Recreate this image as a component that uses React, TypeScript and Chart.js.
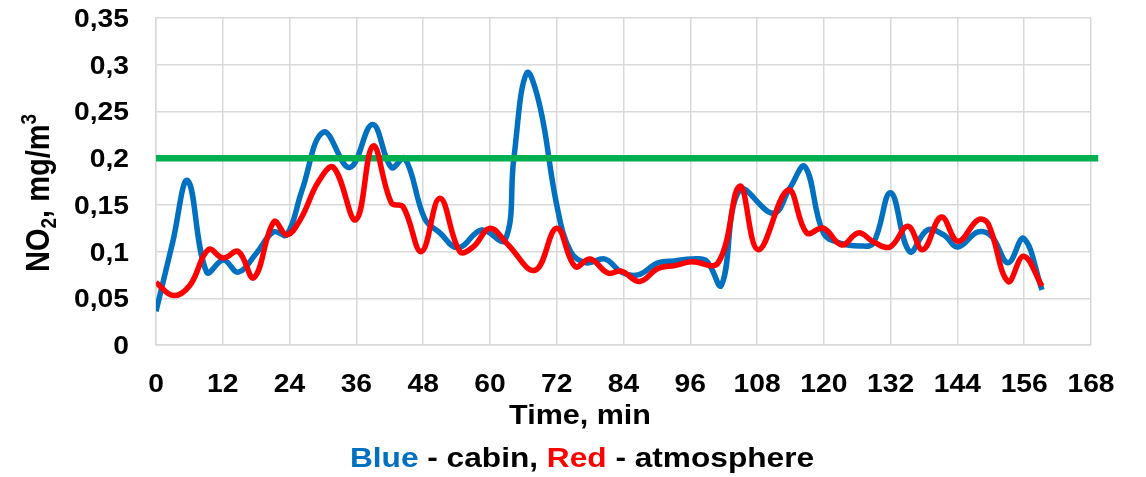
import { useEffect, useRef } from 'react';
import { Chart, registerables } from 'chart.js';

Chart.register(...registerables);

// NO2 concentration in the cabin (blue), minutes / mg/m3
const cabinTime = [
  0, 3, 5.7, 9.1, 12.1, 14.8, 18, 21.1, 23.5, 26.2, 30.1, 34.8, 38.9, 42.3, 44.7, 48.3, 51, 54.3,
  58.5, 62.7, 64.3, 66.6, 69, 72, 74.5, 77.3, 80.7, 83.6, 86.6, 90.2, 93.2, 96.2, 98.9, 101.6,
  104.9, 110.9, 113.9, 116.6, 119.9, 122.9, 126.5, 128.9, 132, 135.4, 138.6, 141.5, 144.1, 147.7,
  150.2, 153.1, 155.9, 159.2,
];
const cabinNO2 = [
  0.036, 0.11, 0.176, 0.078, 0.091, 0.078, 0.098, 0.121, 0.118, 0.165, 0.228, 0.19, 0.236, 0.19,
  0.2, 0.135, 0.12, 0.104, 0.123, 0.112, 0.2, 0.291, 0.255, 0.15, 0.1, 0.088, 0.092, 0.078, 0.075,
  0.088, 0.09, 0.092, 0.09, 0.064, 0.166, 0.141, 0.168, 0.191, 0.12, 0.109, 0.106, 0.109, 0.163,
  0.1, 0.123, 0.118, 0.105, 0.121, 0.116, 0.088, 0.114, 0.059,
];

// NO2 concentration in the atmosphere (red)
const atmTime = [
  0, 3.1, 6.1, 9.4, 12.1, 14.8, 17.6, 21.2, 23.5, 26, 29.2, 31.9, 35.9, 39, 42.3, 44.4, 47.7, 51,
  54.6, 57, 60, 63, 68.1, 72, 75.3, 78, 81.2, 83.6, 86.9, 90.2, 93.2, 96.2, 101, 104.9, 108.2,
  113.6, 116.9, 119.9, 123.2, 126.2, 129, 131.9, 135.1, 137.8, 141.1, 144.1, 147.7, 149.5, 153.1,
  155.9, 159.2,
];
const atmNO2 = [
  0.067, 0.053, 0.064, 0.102, 0.093, 0.1, 0.072, 0.132, 0.118, 0.135, 0.175, 0.19, 0.134, 0.213,
  0.152, 0.148, 0.1, 0.157, 0.1, 0.105, 0.125, 0.109, 0.08, 0.125, 0.084, 0.092, 0.077, 0.079,
  0.068, 0.082, 0.085, 0.089, 0.088, 0.17, 0.102, 0.166, 0.12, 0.125, 0.107, 0.12, 0.11, 0.105,
  0.127, 0.102, 0.137, 0.111, 0.134, 0.13, 0.068, 0.095, 0.063,
];

// Permissible limit
const limitTime = [0, 169.3];
const limitNO2 = [0.2, 0.2];

const xTicks = [0, 12, 24, 36, 48, 60, 72, 84, 96, 108, 120, 132, 144, 156, 168];
const yTicks = [0, 0.05, 0.1, 0.15, 0.2, 0.25, 0.3, 0.35];
const yTickLabels = ['0', '0,05', '0,1', '0,15', '0,2', '0,25', '0,3', '0,35'];

const FAMILY = "'Liberation Sans', Arial, Helvetica, sans-serif";
const SX = 1.13; // horizontal stretch of the lettering
const BLUE = '#0070C0';
const RED = '#FF0000';
const GREEN = '#00B050';
const INK = '#000000';

const pts = (xs: number[], ys: number[]) => xs.map((x, i) => ({ x, y: ys[i] }));

type Seg = { text: string; color: string; size?: number; dy?: number };

function segWidth(ctx: CanvasRenderingContext2D, segs: Seg[], size: number) {
  let w = 0;
  for (const s of segs) {
    ctx.font = `bold ${s.size ?? size}px ${FAMILY}`;
    w += ctx.measureText(s.text).width;
  }
  return w;
}

function drawSegs(ctx: CanvasRenderingContext2D, segs: Seg[], size: number, startX: number) {
  let x = startX;
  ctx.textAlign = 'left';
  ctx.textBaseline = 'alphabetic';
  for (const s of segs) {
    ctx.font = `bold ${s.size ?? size}px ${FAMILY}`;
    ctx.fillStyle = s.color;
    ctx.fillText(s.text, x, s.dy ?? 0);
    x += ctx.measureText(s.text).width;
  }
}

const lettering = {
  id: 'lettering',
  afterDraw(chart: any) {
    const ctx: CanvasRenderingContext2D = chart.ctx;
    const xs = chart.scales.x;
    const ys = chart.scales.y;
    ctx.save();

    // y tick labels
    ctx.font = `bold 25px ${FAMILY}`;
    ctx.fillStyle = INK;
    ctx.textAlign = 'right';
    ctx.textBaseline = 'alphabetic';
    yTicks.forEach((v, i) => {
      const y = ys.getPixelForValue(v);
      ctx.save();
      ctx.translate(129, y + 9);
      ctx.scale(SX, 1);
      ctx.fillText(yTickLabels[i], 0, 0);
      ctx.restore();
    });

    // x tick labels
    ctx.textAlign = 'center';
    xTicks.forEach((v) => {
      const x = xs.getPixelForValue(v);
      ctx.save();
      ctx.translate(x, 392);
      ctx.scale(SX, 1);
      ctx.fillText(String(v), 0, 0);
      ctx.restore();
    });

    // x axis title
    ctx.save();
    ctx.font = `bold 27px ${FAMILY}`;
    ctx.translate(580, 424);
    ctx.scale(SX, 1);
    ctx.fillText('Time, min', 0, 0);
    ctx.restore();

    // colour key line
    const key: Seg[] = [
      { text: 'Blue', color: BLUE },
      { text: ' - cabin, ', color: INK },
      { text: 'Red', color: RED },
      { text: ' - atmosphere', color: INK },
    ];
    ctx.save();
    ctx.translate(582, 467);
    ctx.scale(SX, 1);
    const kw = segWidth(ctx, key, 28);
    drawSegs(ctx, key, 28, -kw / 2);
    ctx.restore();

    // y axis title, rotated, with sub/superscripts
    const F = 29;
    const title: Seg[] = [
      { text: 'NO', color: INK },
      { text: '2', color: INK, size: Math.round(F * 0.66), dy: F * 0.2 },
      { text: ', mg/m', color: INK },
      { text: '3', color: INK, size: Math.round(F * 0.66), dy: -F * 0.4 },
    ];
    ctx.save();
    ctx.translate(49, 193);
    ctx.scale(SX, 1);
    ctx.rotate(-Math.PI / 2);
    const tw = segWidth(ctx, title, F);
    drawSegs(ctx, title, F, -tw / 2);
    ctx.restore();

    ctx.restore();
  },
};

export default function App() {
  const ref = useRef<HTMLCanvasElement | null>(null);

  useEffect(() => {
    if (!ref.current) return;
    const gridColor = '#d9d9d9';
    const chart = new Chart(ref.current, {
      type: 'line',
      data: {
        datasets: [
          {
            label: 'atmosphere',
            data: pts(atmTime, atmNO2),
            borderColor: RED,
            borderWidth: 5.5,
            pointRadius: 0,
            tension: 0.4,
            fill: false,
            order: 0,
          },
          {
            label: 'limit',
            data: pts(limitTime, limitNO2),
            borderColor: GREEN,
            borderWidth: 6.5,
            pointRadius: 0,
            tension: 0,
            fill: false,
            clip: false,
            order: 1,
          },
          {
            label: 'cabin',
            data: pts(cabinTime, cabinNO2),
            borderColor: BLUE,
            borderWidth: 5.5,
            pointRadius: 0,
            tension: 0.4,
            fill: false,
            order: 2,
          },
        ],
      },
      options: {
        responsive: false,
        animation: false,
        layout: { padding: { left: 0, right: 55, top: 18, bottom: 0 } },
        plugins: { legend: { display: false }, tooltip: { enabled: false }, title: { display: false } },
        scales: {
          x: {
            type: 'linear',
            min: 0,
            max: 168,
            ticks: { stepSize: 12, display: false },
            grid: { color: gridColor, lineWidth: 1.5, drawTicks: false },
            border: { display: true, color: gridColor, width: 1.5 },
            afterFit: (s: any) => {
              s.height = 132;
            },
          },
          y: {
            min: 0,
            max: 0.35,
            ticks: { stepSize: 0.05, display: false },
            grid: { color: gridColor, lineWidth: 1.5, drawTicks: false },
            border: { display: true, color: gridColor, width: 1.5 },
            afterFit: (s: any) => {
              s.width = 156;
            },
          },
        },
      },
      plugins: [lettering],
    });
    return () => chart.destroy();
  }, []);

  return (
    <div style={{ position: 'fixed', left: 0, top: 0, width: 1146, height: 477, background: '#fff' }}>
      <canvas ref={ref} width={1146} height={477} style={{ display: 'block' }} />
    </div>
  );
}
